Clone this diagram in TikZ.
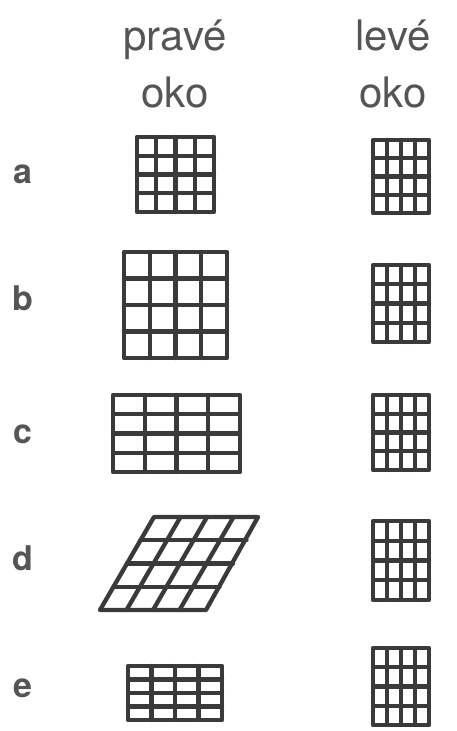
\documentclass[tikz,border=0pt]{standalone}
\usepackage{fontspec}
\setmainfont{TeX Gyre Heros}
\definecolor{ink}{HTML}{3A3A3A}
\definecolor{txt}{HTML}{555555}
\tikzset{
  gridline/.style={draw=ink, line width=4.3pt, line join=round, line cap=round},
  head/.style={text=txt, anchor=base, inner sep=0pt, font=\fontsize{42}{42}\selectfont},
  rowlabel/.style={text=txt, anchor=base, inner sep=0pt, font=\fontsize{34}{34}\selectfont\bfseries},
}
\newcommand\eyegrid[4]{%
  \draw[gridline] (#1,#2) rectangle (#3,#4);
  \foreach \k in {1,2,3}{%
    \draw[gridline] ({#1+(#3-#1)*\k/4},#2) -- ({#1+(#3-#1)*\k/4},#4);
    \draw[gridline] (#1,{#2+(#4-#2)*\k/4}) -- (#3,{#2+(#4-#2)*\k/4});
  }}
\begin{document}
\begin{tikzpicture}[x=1pt,y=-1pt]
\useasboundingbox[fill=white] (0,0) rectangle (456,731);
% headings
\node[head] (p1) at (175,50) {pravé};
\node[head] (p2) at (175,107) {oko};
\node[head] (l1) at (393,50) {levé};
\node[head] (l2) at (393,107) {oko};
% row labels
\node[rowlabel] (ra) at (23,183) {a};
\node[rowlabel] (rb) at (23,310) {b};
\node[rowlabel] (rc) at (23,443) {c};
\node[rowlabel] (rd) at (23,570) {d};
\node[rowlabel] (re) at (23,697) {e};
% right eye grids
\eyegrid{137}{137}{214}{212}
\eyegrid{124}{252}{227}{358}
\eyegrid{113}{395}{240}{472}
% sheared grid d
\draw[gridline] (154,517) -- (258,517) -- (206,610) -- (100,610) -- cycle;
\foreach \k in {1,2,3}{%
  \draw[gridline] ({100+54*\k/4},{610-93*\k/4}) -- ({206+54*\k/4},{610-93*\k/4});
  \draw[gridline] ({100+106*\k/4},610) -- ({154+106*\k/4},517);
}
\eyegrid{128}{666}{222}{720}
% left eye grids
\eyegrid{373}{140}{429}{213}
\eyegrid{373}{265}{429}{342}
\eyegrid{373}{395}{429}{470}
\eyegrid{373}{521}{429}{600}
\eyegrid{373}{648}{429}{725}
\end{tikzpicture}
\end{document}
